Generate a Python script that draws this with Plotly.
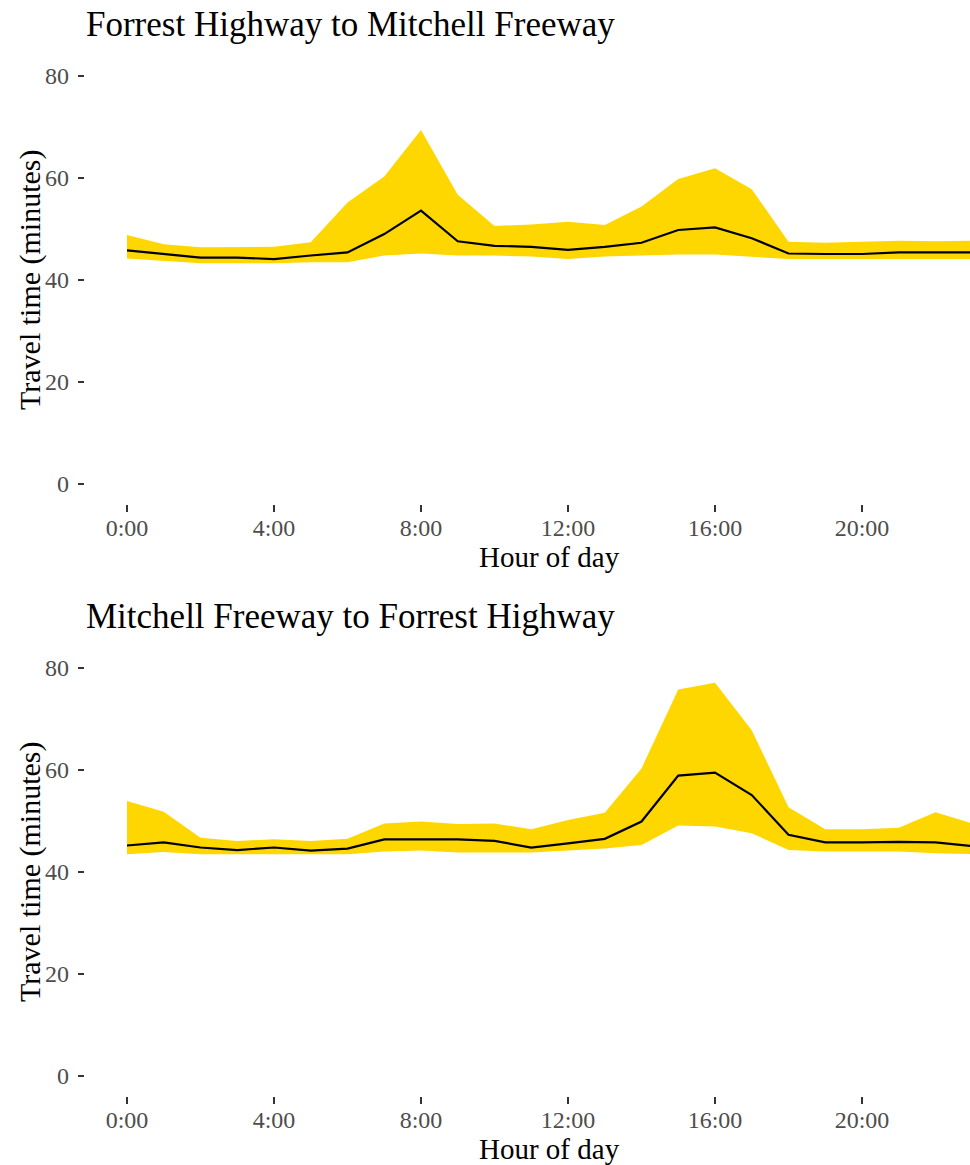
import plotly.graph_objects as go

hours = list(range(24))
tick_vals = [0, 4, 8, 12, 16, 20]
tick_text = ["0:00", "4:00", "8:00", "12:00", "16:00", "20:00"]
y_ticks = [0, 20, 40, 60, 80]

titles = ["Forrest Highway to Mitchell Freeway", "Mitchell Freeway to Forrest Highway"]

top_upper = [48.8, 47.0, 46.4, 46.5, 46.5, 47.4, 55.2, 60.3, 69.4, 56.7, 50.6, 50.9,
             51.4, 50.8, 54.4, 59.8, 61.9, 57.8, 47.5, 47.3, 47.5, 47.7, 47.6, 47.7]
top_mean = [45.8, 45.1, 44.4, 44.4, 44.1, 44.8, 45.4, 49.0, 53.6, 47.6, 46.7, 46.5,
            45.9, 46.5, 47.3, 49.8, 50.3, 48.2, 45.2, 45.1, 45.1, 45.4, 45.4, 45.4]
top_lower = [44.2, 43.8, 43.3, 43.3, 43.3, 43.5, 43.5, 44.8, 45.2, 44.8, 44.8, 44.6,
             44.1, 44.6, 44.8, 45.0, 45.0, 44.6, 44.1, 44.1, 44.1, 44.1, 44.1, 44.1]

bottom_upper = [53.9, 51.8, 46.7, 46.1, 46.4, 46.1, 46.5, 49.5, 49.9, 49.4, 49.5, 48.4,
                50.2, 51.6, 60.3, 75.8, 77.1, 67.8, 52.7, 48.4, 48.4, 48.7, 51.7, 49.5]
bottom_mean = [45.2, 45.8, 44.8, 44.3, 44.8, 44.2, 44.6, 46.4, 46.4, 46.4, 46.1, 44.8,
               45.6, 46.5, 49.9, 58.9, 59.5, 55.1, 47.3, 45.8, 45.8, 45.9, 45.8, 45.1]
bottom_lower = [43.5, 43.9, 43.5, 43.5, 43.5, 43.4, 43.5, 44.0, 44.2, 43.8, 43.8, 43.8,
                44.2, 44.6, 45.3, 49.1, 48.9, 47.6, 44.3, 44.0, 44.0, 44.0, 43.7, 43.5]

W, H = 970, 1165
FONT = "Liberation Serif, Times New Roman, serif"
GOLD = "#FFD700"

panels = [
    (top_lower, top_upper, top_mean, (55.6, 504.4), "x", "y"),
    (bottom_lower, bottom_upper, bottom_mean, (647.6, 1096.4), "x2", "y2"),
]

fig = go.Figure()
for lower, upper, mean, (ytop, ybot), xa, ya in panels:
    fig.add_trace(go.Scatter(x=hours, y=lower, mode="lines", line=dict(width=0, color=GOLD),
                             showlegend=False, hoverinfo="skip", xaxis=xa, yaxis=ya))
    fig.add_trace(go.Scatter(x=hours, y=upper, mode="lines", line=dict(width=0, color=GOLD),
                             fill="tonexty", fillcolor=GOLD, showlegend=False, xaxis=xa, yaxis=ya))
    fig.add_trace(go.Scatter(x=hours, y=mean, mode="lines", line=dict(width=2.2, color="black"),
                             showlegend=False, xaxis=xa, yaxis=ya))

x_left = 84.7
px_per_hour = 36.75
x0_px = 127.0
x_range = [-(x0_px - x_left) / px_per_hour, (W - x0_px) / px_per_hour]

axis_common = dict(showgrid=False, zeroline=False, showline=False, ticks="outside",
                   tickwidth=2, tickcolor="#333333",
                   tickfont=dict(family=FONT, size=24, color="#4d4d4d"))

layout = dict(width=W, height=H, margin=dict(l=0, r=0, t=0, b=0),
              paper_bgcolor="white", plot_bgcolor="white", showlegend=False)

for i, (lower, upper, mean, (ytop, ybot), xa, ya) in enumerate(panels):
    xname = "xaxis" if i == 0 else "xaxis2"
    yname = "yaxis" if i == 0 else "yaxis2"
    layout[xname] = dict(axis_common, domain=[x_left / W, 1], range=x_range,
                         tickvals=tick_vals, ticktext=tick_text, ticklen=7,
                         anchor=ya, ticklabelstandoff=-5)
    layout[yname] = dict(axis_common, domain=[1 - ybot / H, 1 - ytop / H], range=[-4, 84],
                         tickvals=y_ticks, anchor=xa, ticklen=6, ticklabelstandoff=4)

fig.update_layout(**layout)

anns = []
for i, (lower, upper, mean, (ytop, ybot), xa, ya) in enumerate(panels):
    anns.append(dict(text=titles[i], x=84 / W, y=1 - (ytop - 31) / H, xref="paper", yref="paper",
                     xanchor="left", yanchor="middle", showarrow=False,
                     font=dict(family=FONT, size=35, color="black")))
    anns.append(dict(text="Hour of day", x=549 / W, y=1 - (ybot + 53) / H, xref="paper", yref="paper",
                     xanchor="center", yanchor="middle", showarrow=False,
                     font=dict(family=FONT, size=29, color="black")))
    anns.append(dict(text="Travel time (minutes)", x=30 / W, y=1 - ((ytop + ybot) / 2) / H,
                     xref="paper", yref="paper", xanchor="center", yanchor="middle",
                     textangle=-90, showarrow=False,
                     font=dict(family=FONT, size=30, color="black")))
fig.update_layout(annotations=anns)

fig.write_html("out.html", config={"displayModeBar": False},
               post_script="document.body.style.margin='0';document.body.style.overflow='hidden';")
